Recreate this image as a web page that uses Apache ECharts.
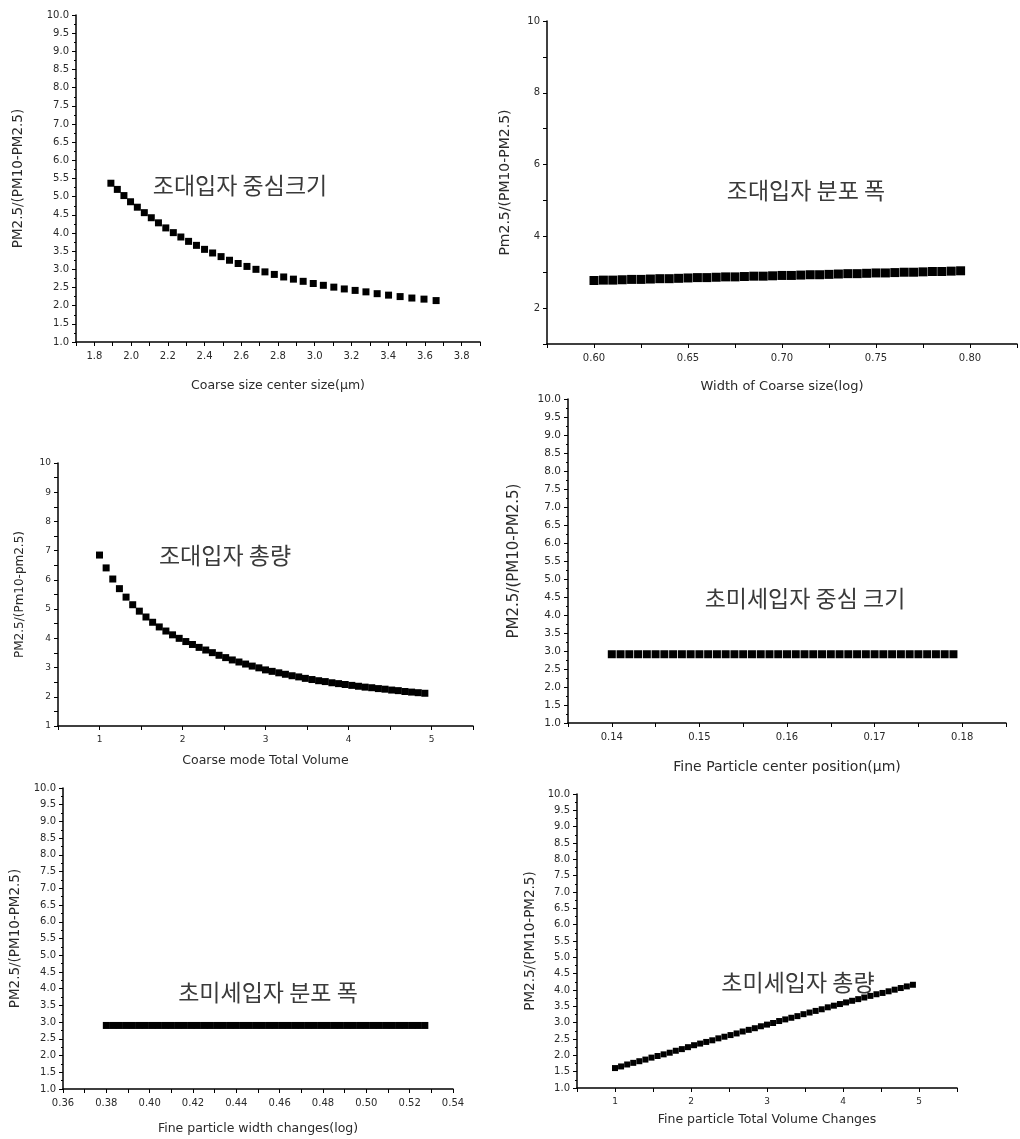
<!DOCTYPE html>
<html><head><meta charset="utf-8">
<script src="https://cdn.jsdelivr.net/npm/echarts@6/dist/echarts.min.js"></script>
<style>html,body{margin:0;padding:0;background:#fff}#c{width:1020px;height:1139px}</style>
</head><body><div id="c"></div>
<script>
// ---------- Data ----------
const p1X = [1.890,1.925,1.961,1.997,2.034,2.072,2.110,2.149,2.189,2.230,2.271,2.313,2.356,2.400,2.444,2.490,2.536,2.583,2.631,2.680,2.729,2.780,2.831,2.884,2.937,2.992,3.047,3.104,3.161,3.220,3.279,3.340,3.402,3.465,3.529,3.595,3.661];
const p1Y = [5.37,5.20,5.03,4.86,4.71,4.56,4.42,4.28,4.14,4.01,3.89,3.77,3.66,3.55,3.45,3.35,3.25,3.16,3.08,3.00,2.93,2.86,2.79,2.73,2.67,2.61,2.56,2.51,2.46,2.42,2.38,2.33,2.29,2.25,2.21,2.18,2.14];

const p2X = [0.600,0.605,0.610,0.615,0.620,0.625,0.630,0.635,0.640,0.645,0.650,0.655,0.660,0.665,0.670,0.675,0.680,0.685,0.690,0.695,0.700,0.705,0.710,0.715,0.720,0.725,0.730,0.735,0.740,0.745,0.750,0.755,0.760,0.765,0.770,0.775,0.780,0.785,0.790,0.795];
const p2Y = [2.77,2.78,2.78,2.79,2.80,2.80,2.81,2.82,2.82,2.83,2.84,2.85,2.85,2.86,2.87,2.87,2.88,2.89,2.89,2.90,2.91,2.91,2.92,2.93,2.93,2.94,2.95,2.96,2.96,2.97,2.98,2.98,2.99,3.00,3.00,3.01,3.02,3.02,3.03,3.04];

const p3X = [1.00,1.08,1.16,1.24,1.32,1.40,1.48,1.56,1.64,1.72,1.80,1.88,1.96,2.04,2.12,2.20,2.28,2.36,2.44,2.52,2.60,2.68,2.76,2.84,2.92,3.00,3.08,3.16,3.24,3.32,3.40,3.48,3.56,3.64,3.72,3.80,3.88,3.96,4.04,4.12,4.20,4.28,4.36,4.44,4.52,4.60,4.68,4.76,4.84,4.92];
const p3Y = [6.85,6.41,6.03,5.70,5.41,5.15,4.93,4.73,4.55,4.39,4.25,4.12,4.00,3.89,3.79,3.69,3.60,3.51,3.42,3.34,3.26,3.19,3.12,3.05,2.99,2.92,2.87,2.82,2.77,2.72,2.68,2.63,2.59,2.55,2.52,2.48,2.45,2.42,2.39,2.36,2.33,2.31,2.28,2.26,2.23,2.21,2.18,2.16,2.14,2.12];

const p4X = [0.140,0.141,0.142,0.143,0.144,0.145,0.146,0.147,0.148,0.149,0.150,0.151,0.152,0.153,0.154,0.155,0.156,0.157,0.158,0.159,0.160,0.161,0.162,0.163,0.164,0.165,0.166,0.167,0.168,0.169,0.170,0.171,0.172,0.173,0.174,0.175,0.176,0.177,0.178,0.179];
const p4Y = [2.91,2.91,2.91,2.91,2.91,2.91,2.91,2.91,2.91,2.91,2.91,2.91,2.91,2.91,2.91,2.91,2.91,2.91,2.91,2.91,2.91,2.91,2.91,2.91,2.91,2.91,2.91,2.91,2.91,2.91,2.91,2.91,2.91,2.91,2.91,2.91,2.91,2.91,2.91,2.91];

const p5X = [0.380,0.383,0.386,0.389,0.392,0.395,0.398,0.401,0.404,0.407,0.410,0.413,0.416,0.419,0.422,0.425,0.428,0.431,0.434,0.437,0.440,0.443,0.446,0.449,0.452,0.455,0.458,0.461,0.464,0.467,0.470,0.473,0.476,0.479,0.482,0.485,0.488,0.491,0.494,0.497,0.500,0.503,0.506,0.509,0.512,0.515,0.518,0.521,0.524,0.527];
const p5Y = [2.90,2.90,2.90,2.90,2.90,2.90,2.90,2.90,2.90,2.90,2.90,2.90,2.90,2.90,2.90,2.90,2.90,2.90,2.90,2.90,2.90,2.90,2.90,2.90,2.90,2.90,2.90,2.90,2.90,2.90,2.90,2.90,2.90,2.90,2.90,2.90,2.90,2.90,2.90,2.90,2.90,2.90,2.90,2.90,2.90,2.90,2.90,2.90,2.90,2.90];

const p6X = [1.00,1.08,1.16,1.24,1.32,1.40,1.48,1.56,1.64,1.72,1.80,1.88,1.96,2.04,2.12,2.20,2.28,2.36,2.44,2.52,2.60,2.68,2.76,2.84,2.92,3.00,3.08,3.16,3.24,3.32,3.40,3.48,3.56,3.64,3.72,3.80,3.88,3.96,4.04,4.12,4.20,4.28,4.36,4.44,4.52,4.60,4.68,4.76,4.84,4.92];
const p6Y = [1.61,1.66,1.72,1.77,1.82,1.87,1.93,1.98,2.03,2.08,2.14,2.19,2.25,2.31,2.36,2.41,2.46,2.52,2.57,2.62,2.67,2.73,2.78,2.83,2.89,2.94,2.99,3.05,3.10,3.15,3.20,3.26,3.31,3.36,3.41,3.47,3.52,3.57,3.62,3.67,3.72,3.77,3.82,3.87,3.91,3.96,4.01,4.06,4.11,4.16];

// ---------- Tick labels ----------
const halfSteps = [1.0,1.5,2.0,2.5,3.0,3.5,4.0,4.5,5.0,5.5,6.0,6.5,7.0,7.5,8.0,8.5,9.0,9.5,10.0];
const p1XLabels = [1.8,2.0,2.2,2.4,2.6,2.8,3.0,3.2,3.4,3.6,3.8];
const p2XLabels = [0.60,0.65,0.70,0.75,0.80];
const p2YLabels = [2,4,6,8,10];
const p3XLabels = [1,2,3,4,5];
const p3YLabels = [1,2,3,4,5,6,7,8,9,10];
const p4XLabels = [0.14,0.15,0.16,0.17,0.18];
const p5XLabels = [0.36,0.38,0.40,0.42,0.44,0.46,0.48,0.50,0.52,0.54];
const p6XLabels = [1,2,3,4,5];

// ---------- Text ----------
const titles = ['조대입자 중심크기','조대입자 분포 폭','조대입자 총량','초미세입자 중심 크기','초미세입자 분포 폭','초미세입자 총량'];
const xNames = ['Coarse size center size(μm)','Width of Coarse size(log)','Coarse mode Total Volume','Fine Particle center position(μm)','Fine particle width changes(log)','Fine particle Total Volume Changes'];
const yNames = ['PM2.5/(PM10-PM2.5)','Pm2.5/(PM10-PM2.5)','PM2.5/(Pm10-pm2.5)','PM2.5/(PM10-PM2.5)','PM2.5/(PM10-PM2.5)','PM2.5/(PM10-PM2.5)'];

const FONT = '"DejaVu Sans", "Liberation Sans", sans-serif';
const TXT = '#2a2a2a';

function fmt(labels, dec, tol) {
  return function (v) {
    const hit = labels.find(l => Math.abs(l - v) < tol);
    return hit === undefined ? '' : hit.toFixed(dec);
  };
}
function axisBase(gi) {
  return {
    gridIndex: gi, type: 'value',
    axisLine: { show: true, onZero: false, lineStyle: { color: '#000', width: 1.5 } },
    axisTick: { show: true, inside: false, length: 4, lineStyle: { color: '#000', width: 1 } },
    splitLine: { show: false },
    nameLocation: 'middle'
  };
}
function xAx(gi, min, max, interval, labels, dec, name, gap, fs, lfs) {
  return Object.assign(axisBase(gi), {
    min, max, interval, name, nameGap: gap,
    nameTextStyle: { fontFamily: FONT, fontSize: fs, color: TXT },
    axisLabel: { margin: 9, fontFamily: FONT, fontSize: lfs, color: TXT, formatter: fmt(labels, dec, interval / 10) }
  });
}
function yAx(gi, interval, labels, dec, minor, name, gap, fs, lfs) {
  return Object.assign(axisBase(gi), {
    min: 1, max: 10, interval, name, nameGap: gap,
    nameTextStyle: { fontFamily: FONT, fontSize: fs, color: TXT },
    minorTick: { show: minor, splitNumber: 2, length: 2, lineStyle: { color: '#000' } },
    axisLabel: { margin: 7, fontFamily: FONT, fontSize: lfs, color: TXT, formatter: fmt(labels, dec, interval / 10) }
  });
}
function sc(gi, xs, ys, size) {
  return {
    type: 'scatter', xAxisIndex: gi, yAxisIndex: gi, symbol: 'rect', symbolSize: size,
    itemStyle: { color: '#000', opacity: 1 }, silent: true,
    data: xs.map((x, i) => [x, ys[i]])
  };
}
function label(text, x, y) {
  return { type: 'text', x, y, style: { text, fill: '#3a3a3a', font: '23px "Noto Sans CJK KR", sans-serif', align: 'center', verticalAlign: 'middle', textAlign: 'center', textVerticalAlign: 'middle' } };
}

const option = {
  animation: false,
  backgroundColor: '#fff',
  grid: [
    { left: 76, top: 15, width: 404, height: 327 },
    { left: 547, top: 21, width: 473, height: 323 },
    { left: 58, top: 463, width: 415, height: 263 },
    { left: 568, top: 399, width: 438, height: 324 },
    { left: 63, top: 788, width: 390, height: 301 },
    { left: 577, top: 794, width: 380, height: 294 }
  ],
  xAxis: [
    xAx(0, 1.7, 3.9, 0.1, p1XLabels, 1, xNames[0], 37, 12.5, 10),
    xAx(1, 0.575, 0.825, 0.025, p2XLabels, 2, xNames[1], 36, 13, 10),
    xAx(2, 0.5, 5.5, 0.5, p3XLabels, 0, xNames[2], 28, 12.5, 9),
    xAx(3, 0.135, 0.185, 0.005, p4XLabels, 2, xNames[3], 37, 14, 10),
    xAx(4, 0.36, 0.54, 0.01, p5XLabels, 2, xNames[4], 33, 12.5, 10),
    xAx(5, 0.5, 5.5, 0.5, p6XLabels, 0, xNames[5], 25, 12.5, 9)
  ],
  yAxis: [
    yAx(0, 0.5, halfSteps, 1, true, yNames[0], 51, 13.5, 10),
    yAx(1, 1, p2YLabels, 0, false, yNames[1], 35, 14, 10),
    yAx(2, 0.5, p3YLabels, 0, false, yNames[2], 32, 12, 9),
    yAx(3, 0.5, halfSteps, 1, true, yNames[3], 46, 15, 10.5),
    yAx(4, 0.5, halfSteps, 1, true, yNames[4], 41, 13.5, 10),
    yAx(5, 0.5, halfSteps, 1, true, yNames[5], 40, 13.5, 10)
  ],
  series: [
    sc(0, p1X, p1Y, 7),
    sc(1, p2X, p2Y, 9),
    sc(2, p3X, p3Y, 7),
    sc(3, p4X, p4Y, 8),
    sc(4, p5X, p5Y, 7),
    sc(5, p6X, p6Y, 6)
  ],
  graphic: [
    label(titles[0], 240, 185),
    label(titles[1], 806, 190),
    label(titles[2], 225, 555),
    label(titles[3], 805, 598),
    label(titles[4], 268, 992),
    label(titles[5], 798, 982)
  ]
};
const chart = echarts.init(document.getElementById('c'), null, { renderer: 'canvas' });
chart.setOption(option);
</script></body></html>
